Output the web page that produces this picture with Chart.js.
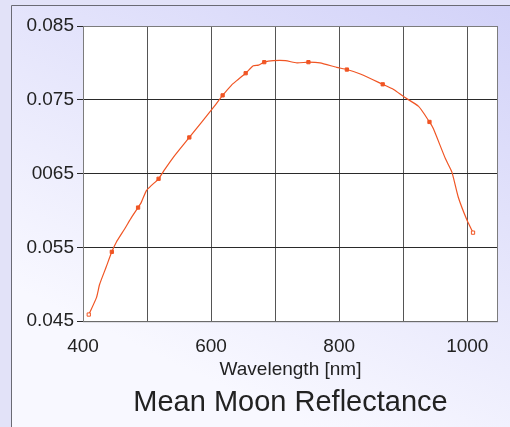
<!DOCTYPE html>
<html>
<head>
<meta charset="utf-8">
<script src="https://cdn.jsdelivr.net/npm/chart.js@4/dist/chart.umd.min.js"></script>
<style>
  html, body { margin: 0; padding: 0; background: #e2e2f8; }
</style>
</head>
<body>
<canvas id="myChart" width="510" height="427"></canvas>
<script>
// curve (nm, reflectance)
const wavelength = [409, 421, 426, 436, 445, 452, 465, 476, 486, 491, 499, 507, 518, 528, 541, 566,
    604, 618, 632, 640, 654, 666, 674, 683, 697, 716, 734, 752, 770, 796, 812, 833,
    868, 885, 901, 924, 941, 947, 966, 976, 986, 1000, 1009];
const reflectance = [0.0459, 0.0482, 0.0500, 0.0523, 0.0544, 0.0557, 0.0575, 0.0591, 0.0604, 0.0611,
    0.0627, 0.0634, 0.0643, 0.0656, 0.0672, 0.0699, 0.0740, 0.0756, 0.0770, 0.0776, 0.0786,
    0.0796, 0.0797, 0.0801, 0.0803, 0.0803, 0.0800, 0.0801, 0.0800, 0.0794, 0.0791, 0.0785,
    0.0771, 0.0764, 0.0754, 0.0741, 0.0720, 0.0711, 0.0670, 0.0652, 0.0618, 0.0586, 0.0570];

// measured points (the little square markers)
const markerWavelength = [409, 445, 486, 518, 566, 618, 654, 683, 752, 812, 868, 941, 1009];
const markerReflectance = [0.0459, 0.0544, 0.0604, 0.0643, 0.0699, 0.0756, 0.0786, 0.0801, 0.0801,
    0.0791, 0.0771, 0.0720, 0.0570];

const xTicks = [400, 500, 600, 700, 800, 900, 1000];
const xTickLabels = ['400', '', '600', '', '800', '', '1000'];
const yTicks = [0.045, 0.055, 0.065, 0.075, 0.085];
const yTickLabels = ['0.045', '0.055', '0065', '0.075', '0.085'];

const lineColor = '#f05524';
const font = 'Liberation Sans, Arial, sans-serif';

const backdrop = {
    id: 'backdrop',
    beforeDraw(chart) {
        const { ctx, width, height, chartArea: a } = chart;
        ctx.save();
        ctx.fillStyle = '#e2e2f8';
        ctx.fillRect(0, 0, width, height);
        const g = ctx.createLinearGradient(width, 0, width * 0.6, height);
        g.addColorStop(0, '#d2d2f8');
        g.addColorStop(1, '#f8f8ff');
        ctx.fillStyle = g;
        ctx.fillRect(11, 5, width - 11, height - 5);
        ctx.strokeStyle = '#6a6a74';
        ctx.lineWidth = 1;
        ctx.beginPath();
        ctx.moveTo(11.5, height);
        ctx.lineTo(11.5, 5.5);
        ctx.lineTo(width, 5.5);
        ctx.stroke();
        ctx.fillStyle = '#ffffff';
        ctx.fillRect(a.left, a.top, a.right - a.left, a.bottom - a.top);
        ctx.restore();
    },
    beforeDatasetsDraw(chart) {
        const { ctx, chartArea: a } = chart;
        ctx.save();
        ctx.strokeStyle = '#7c7c7c';
        ctx.lineWidth = 1;
        ctx.strokeRect(a.left + 0.5, a.top + 0.5, a.right - a.left - 1, a.bottom - a.top);
        ctx.restore();
    }
};

new Chart('myChart', {
    type: 'line',
    data: {
        datasets: [
            {
                data: markerWavelength.map((x, i) => ({ x, y: markerReflectance[i] })),
                showLine: false,
                pointStyle: 'rect',
                pointRadius: 2.3,
                borderWidth: 1,
                borderColor: lineColor,
                backgroundColor: ctx => (ctx.dataIndex === 0 || ctx.dataIndex === markerWavelength.length - 1) ? '#ffffff' : lineColor
            },
            {
                data: wavelength.map((x, i) => ({ x, y: reflectance[i] })),
                borderColor: lineColor,
                borderWidth: 1.2,
                pointRadius: 0,
                tension: 0.2,
                fill: false
            }
        ]
    },
    options: {
        responsive: false,
        animation: false,
        layout: { padding: { left: 10, right: 12, top: 26, bottom: 0 } },
        plugins: {
            legend: { display: false },
            tooltip: { enabled: false },
            title: {
                display: true,
                position: 'bottom',
                fullSize: false,
                text: 'Mean Moon Reflectance',
                color: '#222222',
                font: { family: font, size: 29, weight: 'normal' },
                padding: { top: 0, bottom: 7 }
            }
        },
        scales: {
            x: {
                type: 'linear',
                min: 400,
                max: 1048,
                afterBuildTicks: s => { s.ticks = xTicks.map(v => ({ value: v })); },
                afterFit: s => { s.height = 64; },
                border: { display: false },
                grid: { color: '#555555', drawTicks: false },
                ticks: {
                    padding: 14,
                    autoSkip: false,
                    maxRotation: 0,
                    color: '#222222',
                    font: { family: font, size: 19 },
                    callback: (v, i) => xTickLabels[i]
                },
                title: {
                    display: true,
                    text: 'Wavelength [nm]',
                    color: '#222222',
                    font: { family: font, size: 19 },
                    padding: { top: 0, bottom: 4 }
                }
            },
            y: {
                min: 0.045,
                max: 0.085,
                afterBuildTicks: s => { s.ticks = yTicks.map(v => ({ value: v })); },
                afterFit: s => { s.width = 73; },
                border: { display: false },
                grid: { color: '#2a2a2a', tickLength: 6 },
                ticks: {
                    padding: 3,
                    color: '#222222',
                    font: { family: font, size: 19 },
                    callback: (v, i) => yTickLabels[i]
                }
            }
        }
    },
    plugins: [backdrop]
});
</script>
</body>
</html>
